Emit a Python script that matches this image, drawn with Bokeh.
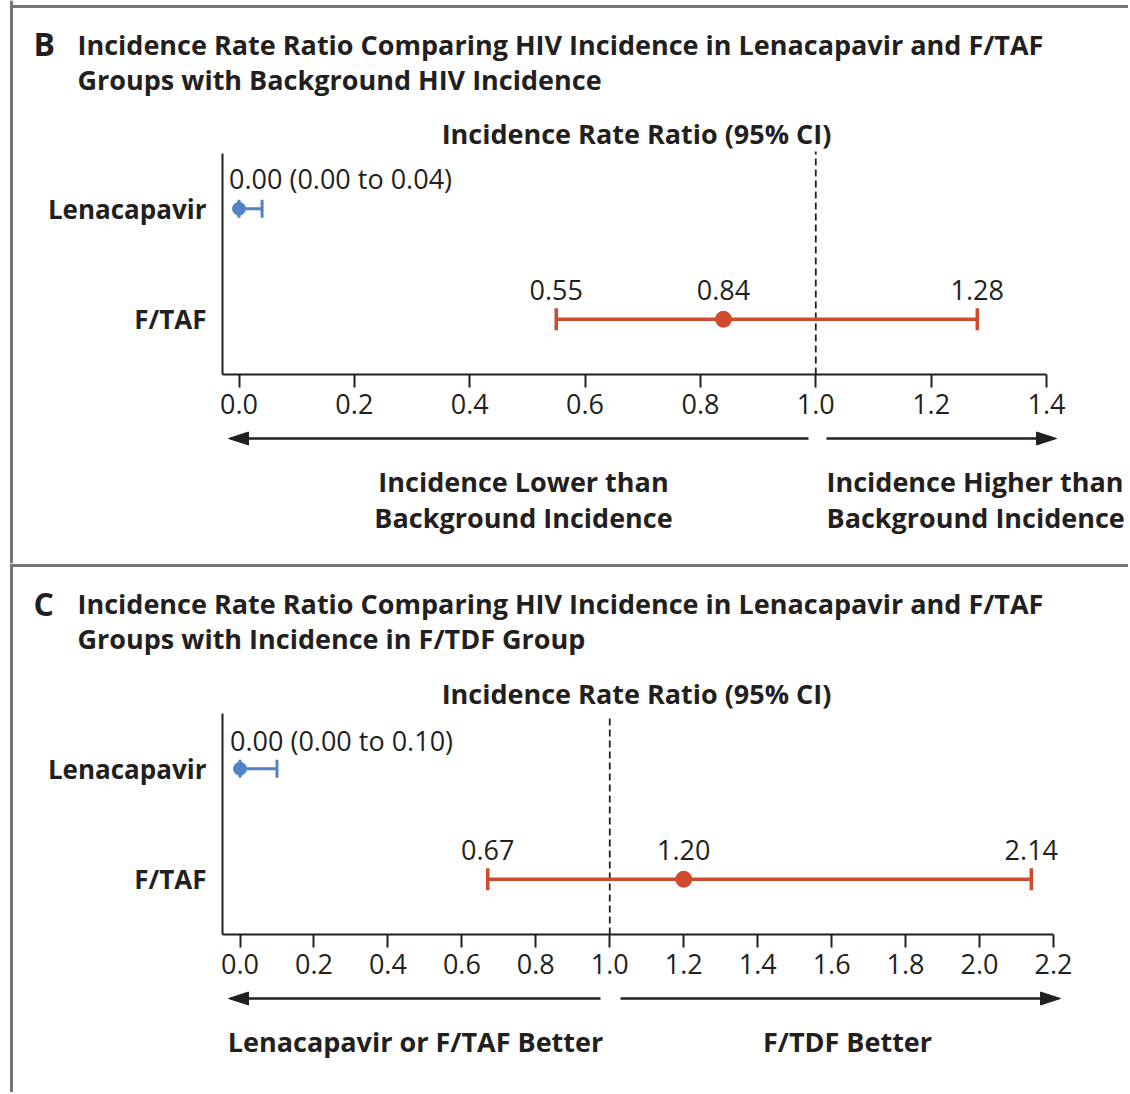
import math
from bokeh.plotting import figure
from bokeh.models import Range1d, FixedTicker, ColumnDataSource
from bokeh.layouts import column
from bokeh.embed import file_html
from bokeh.resources import INLINE
from bokeh.core.properties import value

# ---------------- data ----------------
groups = ["Lenacapavir", "F/TAF"]

b_est = [0.00, 0.84]
b_lo = [0.00, 0.55]
b_hi = [0.04, 1.28]
b_ticks = [0.0, 0.2, 0.4, 0.6, 0.8, 1.0, 1.2, 1.4]
b_tick_labels = ["0.0", "0.2", "0.4", "0.6", "0.8", "1.0", "1.2", "1.4"]
b_title = ["Incidence Rate Ratio Comparing HIV Incidence in Lenacapavir and F/TAF",
           "Groups with Background HIV Incidence"]
b_left_note = ["Incidence Lower than", "Background Incidence"]
b_right_note = ["Incidence Higher than", "Background Incidence"]

c_est = [0.00, 1.20]
c_lo = [0.00, 0.67]
c_hi = [0.10, 2.14]
c_ticks = [0.0, 0.2, 0.4, 0.6, 0.8, 1.0, 1.2, 1.4, 1.6, 1.8, 2.0, 2.2]
c_tick_labels = ["0.0", "0.2", "0.4", "0.6", "0.8", "1.0", "1.2", "1.4", "1.6",
                 "1.8", "2.0", "2.2"]
c_title = ["Incidence Rate Ratio Comparing HIV Incidence in Lenacapavir and F/TAF",
           "Groups with Incidence in F/TDF Group"]
c_left_note = ["Lenacapavir or F/TAF Better"]
c_right_note = ["F/TDF Better"]

axis_title = "Incidence Rate Ratio (95% CI)"
ref_value = 1.0

# ---------------- style / layout ----------------
row_pos = [1.5, 0.5]          # vertical slot of each group (top, bottom)
FONT = "Open Sans"
INK = "#231f20"
BLUE = "#5283c7"
RED = "#d04a2e"
GRAY = "#767676"
colors = [BLUE, RED]
point_size = [13, 16]
cap_size = [18, 22]
bar_width = [3, 3.5]
TITLE = "27px"
YLAB = "26px"
REG = "27px"
LETTER = "32px"
W = 1128


def txt(p, x, y, text, size=TITLE, style="bold", align="left"):
    p.text(x=[x], y=[y], text=[text], x_range_name="lx", y_range_name="ly",
           text_font=value(FONT), text_font_size=size, text_font_style=style,
           text_color=INK, text_align=align, text_baseline="middle")


def rule(p, x0, y0, x1, y1, color=GRAY, width=3):
    p.segment(x0=[x0], y0=[y0], x1=[x1], y1=[y1], x_range_name="lx",
              y_range_name="ly", line_color=color, line_width=width)


def arrow(p, x_from, x_tip, y, length=20, half=6.5):
    d = 1 if x_tip > x_from else -1
    base = x_tip - d * length
    p.segment(x0=[x_from], y0=[y], x1=[base + d * 2], y1=[y], x_range_name="lx",
              y_range_name="ly", line_color=INK, line_width=2.5)
    p.patch(x=[x_tip, base, base], y=[y, y - half, y + half], x_range_name="lx",
            y_range_name="ly", fill_color=INK, line_color=INK, line_width=1)


def panel(s, est, lo, hi, ticks, tick_labels):
    pt, H = s["page_top"], s["height"]
    axis_px, top_px, left_px, zero_px = s["axis_px"], s["top_px"], s["left_px"], s["zero_px"]
    x_per = (s["last_px"] - zero_px) / ticks[-1]
    y_per = (axis_px - top_px) / 2.0
    xr = Range1d((0 - zero_px) / x_per, (W - zero_px) / x_per)
    yr = Range1d(-(pt + H - axis_px) / y_per, (axis_px - pt) / y_per)
    x_left = (left_px - zero_px) / x_per
    p = figure(width=W, height=H, output_backend="svg", toolbar_location=None,
               title=None, x_range=xr, y_range=yr, min_border=0,
               min_border_left=0, min_border_right=0, min_border_top=0,
               min_border_bottom=0, outline_line_color=None,
               background_fill_color="white", border_fill_color="white")
    p.extra_x_ranges = {"lx": Range1d(0, W)}
    p.extra_y_ranges = {"ly": Range1d(pt + H, pt)}
    p.xgrid.visible = False
    p.ygrid.visible = False

    xa = p.xaxis[0]
    xa.fixed_location = 0
    xa.bounds = (x_left, ticks[-1])
    xa.ticker = FixedTicker(ticks=ticks)
    xa.major_label_overrides = {t: l for t, l in zip(ticks, tick_labels)}
    xa.minor_tick_line_color = None
    xa.major_tick_in = 0
    xa.major_tick_out = 13
    xa.major_tick_line_width = 2
    xa.major_tick_line_color = INK
    xa.axis_line_width = 2
    xa.axis_line_color = INK
    xa.major_label_text_font = FONT
    xa.major_label_text_font_size = REG
    xa.major_label_text_color = INK
    xa.major_label_standoff = 6

    ya = p.yaxis[0]
    ya.fixed_location = x_left
    ya.bounds = (0, 2)
    ya.ticker = FixedTicker(ticks=row_pos)
    ya.major_label_overrides = {r: g for r, g in zip(row_pos, groups)}
    ya.major_tick_in = 0
    ya.major_tick_out = 0
    ya.minor_tick_line_color = None
    ya.axis_line_width = 2
    ya.axis_line_color = INK
    ya.major_label_text_font = FONT
    ya.major_label_text_font_size = YLAB
    ya.major_label_text_font_style = "bold"
    ya.major_label_text_color = INK
    ya.major_label_standoff = 16

    # reference line at ratio 1.0
    p.segment(x0=[ref_value], y0=[axis_px], x1=[ref_value], y1=[s["dash_top"]],
              y_range_name="ly", line_color=INK, line_width=1.8, line_dash="7 4")

    src = ColumnDataSource(dict(row=row_pos, est=est, lo=lo, hi=hi, color=colors,
                                psize=point_size, csize=cap_size, bw=bar_width))
    p.segment(x0="lo", y0="row", x1="hi", y1="row", line_color="color",
              line_width="bw", source=src)
    for col in ("lo", "hi"):
        p.scatter(x=col, y="row", marker="dash", angle=math.pi / 2, size="csize",
                  line_color="color", line_width="bw", source=src)
    p.scatter(x="est", y="row", size="psize", fill_color="color", line_color="color",
              source=src)

    summ = ColumnDataSource(dict(x=[est[0]], y=[row_pos[0]],
                                 t=[f"{est[0]:.2f} ({lo[0]:.2f} to {hi[0]:.2f})"]))
    p.text(x="x", y="y", text="t", source=summ, text_font=value(FONT),
           text_font_size=REG, text_color=INK, text_align="left",
           text_baseline="middle", x_offset=-10, y_offset=s["summ_dy"])
    vals = [lo[1], est[1], hi[1]]
    vsrc = ColumnDataSource(dict(x=vals, y=[row_pos[1]] * 3, t=[f"{v:.2f}" for v in vals]))
    p.text(x="x", y="y", text="t", source=vsrc, text_font=value(FONT),
           text_font_size=REG, text_color=INK, text_align="center",
           text_baseline="middle", y_offset=-29)
    return p


# ---------------- panel B ----------------
sB = dict(page_top=0, height=563, axis_px=374, top_px=153, left_px=222,
          zero_px=238.5, last_px=1046, summ_dy=-30, dash_top=151)
pB = panel(sB, b_est, b_lo, b_hi, b_ticks, b_tick_labels)
rule(pB, 11, 6, W, 6)
rule(pB, 11, 0, 11, 563)
txt(pB, 33, 43, "B", size=LETTER)
txt(pB, 77, 44, b_title[0])
txt(pB, 77, 79, b_title[1])
txt(pB, 636, 133, axis_title, align="center")
arrow(pB, 808, 228, 438)
arrow(pB, 826, 1056, 438)
for i, t in enumerate(b_left_note):
    txt(pB, 523, 481 + 36 * i, t, align="center")
for i, t in enumerate(b_right_note):
    txt(pB, 826, 481 + 36 * i, t, align="left")

# ---------------- panel C ----------------
sC = dict(page_top=563, height=529, axis_px=934, top_px=713, left_px=222,
          zero_px=239.5, last_px=1053, summ_dy=-28, dash_top=714)
pC = panel(sC, c_est, c_lo, c_hi, c_ticks, c_tick_labels)
rule(pC, 11, 565, W, 565)
rule(pC, 11, 563, 11, 1092)
txt(pC, 33, 603, "C", size=LETTER)
txt(pC, 77, 603, c_title[0])
txt(pC, 77, 638, c_title[1])
txt(pC, 636, 693, axis_title, align="center")
arrow(pC, 600, 228, 998)
arrow(pC, 620, 1060, 998)
txt(pC, 415, 1041, c_left_note[0], align="center")
txt(pC, 847, 1041, c_right_note[0], align="center")

layout = column(pB, pC)
open("out.html", "w").write(file_html(layout, INLINE))
